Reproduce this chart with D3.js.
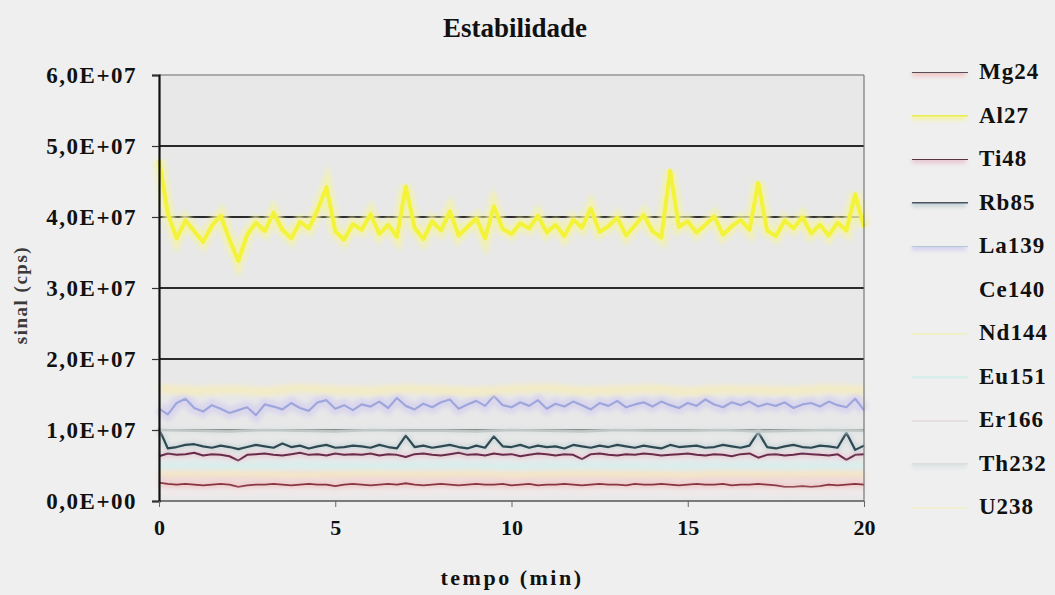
<!DOCTYPE html>
<html>
<head>
<meta charset="utf-8">
<title>Estabilidade</title>
<script src="https://d3js.org/d3.v7.min.js"></script>
<style>
  body { margin: 0; background: #efefef; }
</style>
</head>
<body>
<script>

// values in units of 1E6 cps
var tFine = [0,0.25,0.5,0.75,1,1.25,1.5,1.75,2,2.25,2.5,2.75,3,3.25,3.5,3.75,4,4.25,4.5,4.75,5,5.25,5.5,5.75,6,6.25,6.5,6.75,7,7.25,7.5,7.75,8,8.25,8.5,8.75,9,9.25,9.5,9.75,10,10.25,10.5,10.75,11,11.25,11.5,11.75,12,12.25,12.5,12.75,13,13.25,13.5,13.75,14,14.25,14.5,14.75,15,15.25,15.5,15.75,16,16.25,16.5,16.75,17,17.25,17.5,17.75,18,18.25,18.5,18.75,19,19.25,19.5,19.75,20];
var tCoarse = [0,1,2,3,4,5,6,7,8,9,10,11,12,13,14,15,16,17,18,19,20];

var mg24 = [2.6,2.4,2.3,2.4,2.3,2.2,2.3,2.4,2.3,2.0,2.2,2.3,2.3,2.4,2.3,2.2,2.3,2.4,2.3,2.3,2.1,2.3,2.4,2.3,2.2,2.3,2.4,2.3,2.5,2.3,2.2,2.3,2.4,2.3,2.2,2.3,2.4,2.3,2.3,2.4,2.2,2.3,2.4,2.2,2.3,2.3,2.4,2.3,2.2,2.3,2.4,2.3,2.3,2.2,2.4,2.3,2.3,2.4,2.3,2.2,2.3,2.4,2.3,2.3,2.4,2.2,2.3,2.3,2.4,2.3,2.2,2.0,2.0,2.1,2.0,2.1,2.3,2.2,2.3,2.4,2.3];
var al27 = [48,40.5,37,39.5,38,36.5,38.8,40.2,36.8,33.8,37.5,39.2,38,40.6,38.2,37,39.3,38.4,41,44.2,38,36.8,39,38.2,40.4,37.6,38.9,37.2,44.3,38.5,36.9,39.4,38.1,40.8,37.4,38.6,39.8,37,41.5,38.3,37.6,39.1,38.4,40.2,37.8,38.9,37.3,39.6,38.5,41.2,37.9,38.7,39.9,37.4,38.8,40.3,38,37.1,46.5,38.6,39.4,37.8,38.9,40.1,37.5,38.7,39.6,38.2,44.8,38.1,37.3,39.5,38.4,40,37.7,38.9,37.4,39.2,38.1,43.2,38.6];
var ti48 = [6.3,6.7,6.5,6.6,6.8,6.4,6.6,6.5,6.3,5.7,6.5,6.6,6.7,6.5,6.4,6.6,6.8,6.5,6.6,6.4,6.7,6.5,6.6,6.5,6.7,6.4,6.6,6.5,6.2,6.6,6.7,6.5,6.4,6.6,6.8,6.5,6.6,6.4,6.7,6.5,6.6,6.3,6.5,6.7,6.6,6.4,6.6,6.5,5.9,6.6,6.7,6.5,6.4,6.6,6.5,6.7,6.6,6.4,6.5,6.6,6.7,6.5,6.4,6.6,6.5,6.3,6.6,6.7,6.1,6.5,6.6,6.4,6.5,6.7,6.6,6.5,6.4,6.6,5.8,6.5,6.6];
var rb85 = [10.2,7.4,7.6,7.9,8.0,7.7,7.5,7.8,7.6,7.3,7.6,7.9,7.7,7.5,8.1,7.6,7.8,7.4,7.7,7.9,7.5,7.6,7.8,7.7,7.5,7.9,7.6,7.4,9.2,7.6,7.8,7.5,7.7,7.9,7.6,7.4,7.8,7.5,9.1,7.7,7.6,7.9,7.5,7.8,7.6,7.7,7.4,7.9,7.7,7.5,7.8,7.6,7.9,7.7,7.5,7.8,7.6,7.4,7.9,7.6,7.7,7.8,7.5,7.6,7.9,7.7,7.5,7.8,9.7,7.6,7.4,7.7,7.9,7.6,7.5,7.8,7.7,7.5,9.6,7.2,7.8];
var la139 = [13.0,12.2,13.8,14.4,13.1,12.6,13.5,13.0,12.4,12.8,13.2,12.1,13.6,13.3,12.9,13.8,13.1,12.7,13.9,14.2,13.0,13.5,12.8,13.6,13.3,14.0,13.1,14.5,13.4,12.9,13.7,13.2,13.9,14.3,13.0,13.6,14.1,13.4,14.8,13.5,13.2,13.9,13.4,14.2,13.0,13.7,13.3,14.0,13.5,12.9,13.8,13.4,14.1,13.2,13.6,13.9,13.3,14.0,13.5,13.1,13.8,13.4,14.3,13.6,13.2,13.9,13.5,14.0,13.3,13.7,13.4,13.9,13.1,13.6,13.8,13.3,14.0,13.5,13.2,14.4,12.8];
var ce140 = [1.2,1.1,1.2,1.3,1.2,1.1,1.2,1.2,1.3,1.2,1.1,1.2,1.2,1.3,1.2,1.1,1.2,1.2,1.3,1.2,1.2];
var nd144 = [15.8,15.5,15.7,15.4,15.9,15.6,15.5,15.8,15.6,15.4,15.7,15.9,15.5,15.6,15.8,15.4,15.7,15.6,15.5,15.8,15.6];
var eu151 = [5.0,5.1,4.9,5.0,5.1,5.0,4.9,5.0,5.1,5.0,4.9,5.0,5.1,5.0,4.9,5.0,5.0,5.1,4.9,5.0,5.0];
var er166 = [3.4,3.5,3.3,3.4,3.5,3.4,3.3,3.4,3.5,3.4,3.3,3.4,3.5,3.4,3.4,3.3,3.5,3.4,3.3,3.4,3.5];
var th232 = [10.0,9.9,9.8,10.0,9.9,9.8,10.0,9.9,9.9,9.8,10.0,9.9,9.8,10.0,9.9,9.9,10.0,9.8,9.9,10.0,9.9];
var u238 = [3.9,3.8,3.9,3.8,3.7,3.8,3.9,3.8,3.8,3.9,3.7,3.8,3.9,3.8,3.8,3.7,3.9,3.8,3.8,3.9,3.8];

var yTicks = [0,10,20,30,40,50,60];
var xTicks = [0,5,10,15,20];

var series = [
  {name:"Mg24",  t:tFine,   v:mg24,  color:"#85303e", w:1.8, halo:"#f2c8c8", hw:9,  legend:"#555055"},
  {name:"Al27",  t:tFine,   v:al27,  color:"#f3f33a", w:4,   halo:"#f4f3a8", hw:12, legend:"#eded50"},
  {name:"Ti48",  t:tFine,   v:ti48,  color:"#682b48", w:2,   halo:"#e9c9d4", hw:6,  legend:"#5a3040"},
  {name:"Rb85",  t:tFine,   v:rb85,  color:"#2d4a52", w:2.2, halo:"#c8d4d8", hw:6,  legend:"#4a5560"},
  {name:"La139", t:tFine,   v:la139, color:"#9fa6dc", w:2.2, halo:"#d6d2ee", hw:12, legend:"#b0cad8"},
  {name:"Ce140", t:tCoarse, v:ce140, color:"#f1e9ea", w:6,   halo:null,           legend:"#efefef"},
  {name:"Nd144", t:tCoarse, v:nd144, color:"#f3ebc6", w:9,   halo:null,           legend:"#f0f0c8"},
  {name:"Eu151", t:tCoarse, v:eu151, color:"#d9eeec", w:7,   halo:null,           legend:"#d6efea"},
  {name:"Er166", t:tCoarse, v:er166, color:"#f2d6d3", w:6,   halo:null,           legend:"#e4dede"},
  {name:"Th232", t:tCoarse, v:th232, color:"#bfc8c6", w:2.5, halo:"#dde3e4", hw:6,  legend:"#dcdcdc"},
  {name:"U238",  t:tCoarse, v:u238,  color:"#f4e8c4", w:5,   halo:null,           legend:"#f0f0d2"}
];

var width = 1055, height = 595;
var margin = {left: 159, right: 191, top: 75, bottom: 94};

var svg = d3.select("body").append("svg")
  .attr("width", width)
  .attr("height", height)
  .style("font-family", "'Liberation Serif', 'Times New Roman', serif");

svg.append("rect").attr("width", width).attr("height", height).attr("fill", "#efefef");

var x = d3.scaleLinear().domain([0, 20]).range([margin.left, width - margin.right]);
var y = d3.scaleLinear().domain([0, 60]).range([height - margin.bottom, margin.top]);

// blur filters in user space so flat lines are not clipped
var defs = svg.append("defs");
[["soft", 0.6], ["blur2", 2]].forEach(function(f) {
  defs.append("filter").attr("id", f[0])
    .attr("filterUnits", "userSpaceOnUse")
    .attr("x", 0).attr("y", 0).attr("width", width).attr("height", height)
    .append("feGaussianBlur").attr("stdDeviation", f[1]);
});

// plot area
svg.append("rect")
  .attr("x", x(0)).attr("y", y(60))
  .attr("width", x(20) - x(0)).attr("height", y(0) - y(60))
  .attr("fill", "#e8e8e8");

// gridlines
svg.append("g").selectAll("line")
  .data(yTicks.filter(function(d) { return d > 0; }))
  .enter().append("line")
  .attr("x1", x(0)).attr("x2", x(20))
  .attr("y1", function(d) { return y(d); })
  .attr("y2", function(d) { return y(d); })
  .attr("stroke", function(d) { return d == 60 ? "#6a6a6a" : "#2a2a2a"; })
  .attr("stroke-width", function(d) { return d == 60 ? 1.2 : 1.8; });

// series
var line = function(s) {
  return d3.line()
    .x(function(d, i) { return x(s.t[i]); })
    .y(function(d) { return y(d); })(s.v);
};

var lines = svg.append("g");
series.forEach(function(s) {
  if (s.halo) {
    lines.append("path")
      .attr("d", line(s))
      .attr("fill", "none")
      .attr("stroke", s.halo)
      .attr("stroke-width", s.hw)
      .attr("stroke-opacity", 0.8)
      .attr("filter", "url(#blur2)");
  }
  lines.append("path")
    .attr("d", line(s))
    .attr("fill", "none")
    .attr("stroke", s.color)
    .attr("stroke-width", s.w)
    .attr("stroke-linejoin", "round")
    .attr("filter", s.halo ? "url(#soft)" : "url(#blur2)");
});

// frame
svg.append("line")
  .attr("x1", x(20)).attr("x2", x(20)).attr("y1", y(60)).attr("y2", y(0))
  .attr("stroke", "#777").attr("stroke-width", 1.2);
svg.append("line")
  .attr("x1", x(0)).attr("x2", x(20)).attr("y1", y(0)).attr("y2", y(0))
  .attr("stroke", "#555").attr("stroke-width", 1.6);

// y axis
var yAxis = d3.axisLeft(y)
  .tickValues(yTicks)
  .tickSize(7)
  .tickPadding(15)
  .tickFormat(function(d) {
    return d == 0 ? "0,0E+00" : (d / 10).toFixed(1).replace(".", ",") + "E+07";
  });

var gy = svg.append("g")
  .attr("transform", "translate(" + x(0) + ",0)")
  .call(yAxis)
  .attr("font-family", null);
gy.select(".domain").attr("stroke", "#111").attr("stroke-width", 2.2);
gy.selectAll(".tick line").attr("stroke", "#333").attr("stroke-width", 1.2);
gy.selectAll(".tick text")
  .attr("font-size", 23)
  .attr("font-weight", "bold")
  .attr("letter-spacing", 1.5)
  .attr("fill", "#111");

// x axis
var xAxis = d3.axisBottom(x)
  .tickValues(xTicks)
  .tickSize(6)
  .tickPadding(12);

var gx = svg.append("g")
  .attr("transform", "translate(0," + y(0) + ")")
  .call(xAxis)
  .attr("font-family", null);
gx.select(".domain").remove();
gx.selectAll(".tick line").attr("stroke", "#666").attr("stroke-width", 1);
gx.selectAll(".tick text")
  .attr("font-size", 22)
  .attr("font-weight", "bold")
  .attr("fill", "#111");

// titles
svg.append("text")
  .attr("x", 515).attr("y", 37)
  .attr("text-anchor", "middle")
  .attr("font-size", 27)
  .attr("font-weight", "bold")
  .attr("fill", "#111")
  .text("Estabilidade");

svg.append("text")
  .attr("x", 512).attr("y", 585)
  .attr("text-anchor", "middle")
  .attr("font-size", 22)
  .attr("font-weight", "bold")
  .attr("letter-spacing", 2.5)
  .attr("fill", "#111")
  .text("tempo (min)");

svg.append("text")
  .attr("transform", "translate(27,295) rotate(-90)")
  .attr("text-anchor", "middle")
  .attr("font-size", 19)
  .attr("font-weight", "bold")
  .attr("letter-spacing", 1.5)
  .attr("fill", "#3a3a3a")
  .text("sinal (cps)");

// legend
var legend = svg.append("g").selectAll("g")
  .data(series)
  .enter().append("g")
  .attr("transform", function(d, i) { return "translate(0," + (72 + i * 43.5) + ")"; });

legend.filter(function(d) { return d.halo; }).append("line")
  .attr("x1", 912).attr("x2", 966)
  .attr("stroke", function(d) { return d.halo; })
  .attr("stroke-width", 9)
  .attr("filter", "url(#blur2)");
legend.append("line")
  .attr("x1", 912).attr("x2", 968)
  .attr("stroke", function(d) { return d.legend; })
  .attr("stroke-width", function(d) { return d.halo ? 2 : 4; })
  .attr("filter", "url(#soft)");
legend.append("text")
  .attr("x", 979).attr("y", 7)
  .attr("font-size", 23)
  .attr("font-weight", "bold")
  .attr("letter-spacing", 1)
  .attr("fill", "#111")
  .text(function(d) { return d.name; });

</script>
</body>
</html>
